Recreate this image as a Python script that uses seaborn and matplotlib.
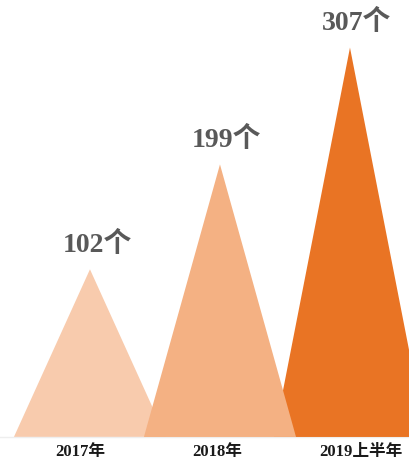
import numpy as np
import pandas as pd
import seaborn as sns
import matplotlib.pyplot as plt
from matplotlib.transforms import ScaledTranslation

# data
periods = ["2017年", "2018年", "2019上半年"]
counts = [102, 199, 307]
colors = ["#F8CBAD", "#F4B183", "#E97424"]
baseline = -53  # triangles start below zero like the source chart

sns.set_theme(style="white")
plt.rcParams["font.family"] = ["Liberation Serif", "Noto Sans CJK SC", "DejaVu Sans"]

df = pd.DataFrame({"period": periods, "count": counts, "color": colors})

fig = plt.figure(figsize=(4.09, 4.59), dpi=100)
ax = fig.add_axes([0, 0.048, 1, 0.952])

half_w = 0.585
draw_order = [0, 2, 1]  # middle triangle sits on top
for z, i in enumerate(draw_order):
    row = df.iloc[i]
    xs = [i - half_w, i, i + half_w]
    ys = [baseline, row["count"], baseline]
    ax.fill(xs, ys, color=row["color"], lw=0, zorder=2 + z)
    ax.annotate(f"{row['count']}个", (i, row["count"]), xytext=(5, 8),
                textcoords="offset points", ha="center", va="bottom",
                fontsize=20, fontweight="bold", color="#595959", zorder=10)

ax.set_xlim(-0.692, 2.454)
ax.set_ylim(baseline, 351)
ax.set_xticks(range(len(periods)))
ax.set_xticklabels(periods, fontsize=12, fontweight="bold", color="#1a1a1a")
ax.tick_params(axis="x", length=0, pad=5)
# nudge outer labels outward a little, as in the source
for lab, dx in zip(ax.get_xticklabels(), [-7, -2, 8]):
    lab.set_transform(lab.get_transform() + ScaledTranslation(dx / 72, 0, fig.dpi_scale_trans))
ax.set_yticks([])
sns.despine(ax=ax, left=True, top=True, right=True)
ax.spines["bottom"].set_color("#eeeeee")
ax.spines["bottom"].set_linewidth(1)

fig.savefig("out.png", dpi=100)
